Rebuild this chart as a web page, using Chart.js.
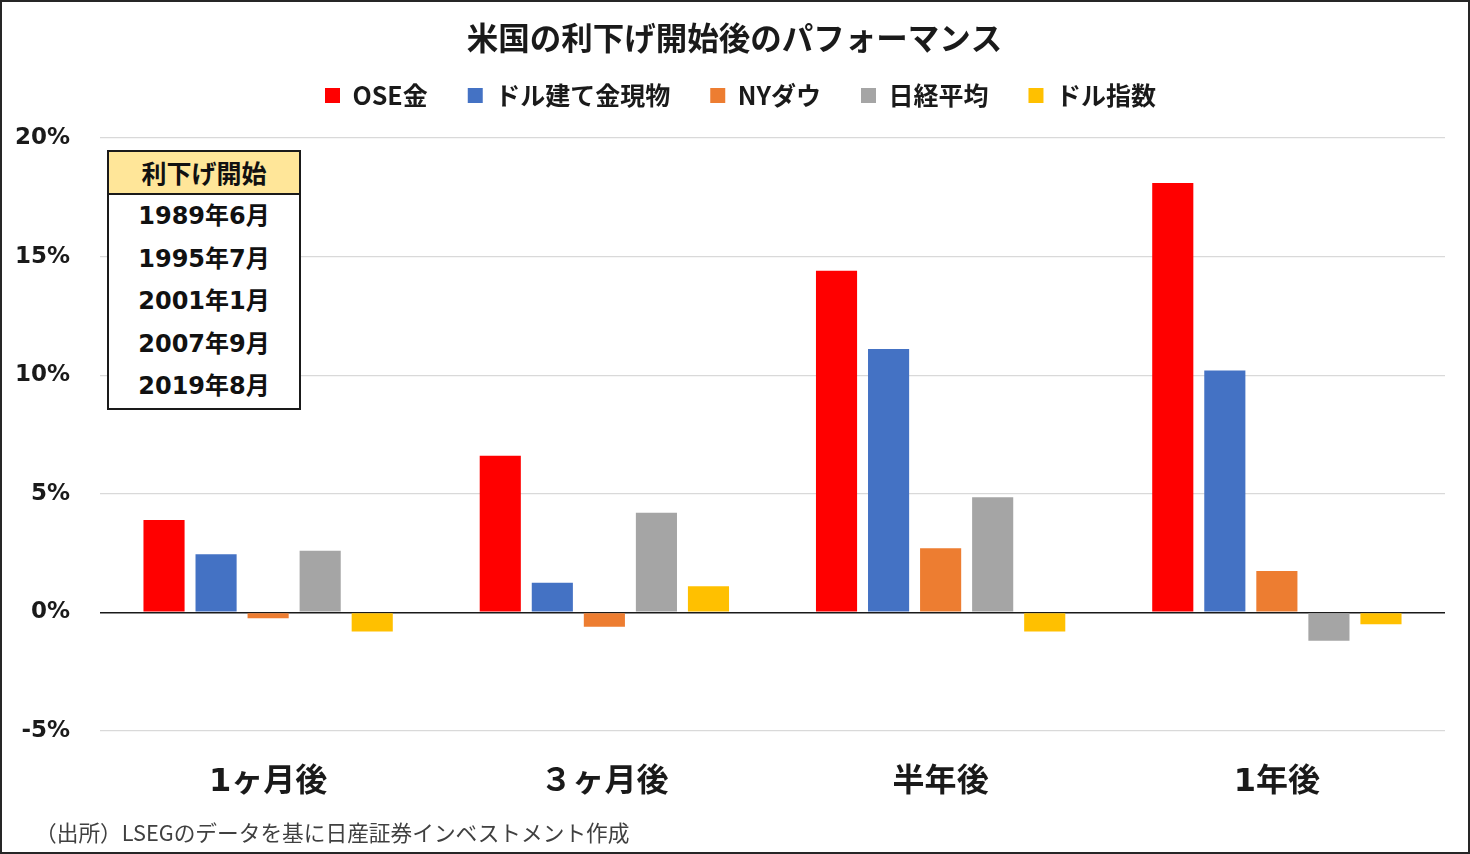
<!DOCTYPE html>
<html>
<head>
<meta charset="utf-8">
<script src="https://cdn.jsdelivr.net/npm/chart.js@4"></script>
<style>
  html, body { margin: 0; padding: 0; background: #fff; }
  #frame {
    position: relative;
    width: 1470px; height: 854px;
    box-sizing: border-box;
    border: 2px solid #262626;
    background: #fff;
  }
  #wrap { position: absolute; left: 0; top: 0; width: 1466px; height: 850px; }
  #startTable {
    position: absolute; left: 105px; top: 148px;
    width: 194px; box-sizing: border-box;
    border: 2px solid #1a1a1a; background: #fff;
    font-family: "DejaVu Sans", "Noto Sans CJK JP", sans-serif;
    text-align: center; color: #111;
  }
  #startTable .head {
    background: #FFE699; border-bottom: 2px solid #1a1a1a;
    height: 41px; line-height: 41px;
    font-family: "Noto Sans CJK JP", sans-serif; font-weight: 700; font-size: 25px;
  }
  #startTable .row { height: 42.5px; line-height: 42.5px; font-size: 24px; font-weight: 700; }
  #note {
    position: absolute; left: 33px; top: 814px;
    font-family: "Noto Sans CJK JP", sans-serif; font-size: 21.7px; color: #404040;
  }
</style>
</head>
<body>
<div id="frame">
  <div id="wrap"><canvas id="perfChart"></canvas></div>
  <div id="startTable"></div>
  <div id="note">（出所）LSEGのデータを基に日産証券インベストメント作成</div>
</div>
<script>
// data (percent)
const periods = ['1ヶ月後', '３ヶ月後', '半年後', '1年後'];
const seriesNames = ['OSE金', 'ドル建て金現物', 'NYダウ', '日経平均', 'ドル指数'];
const oseGold = [3.9, 6.6, 14.4, 18.1];
const usdGold = [2.45, 1.25, 11.1, 10.2];
const nyDow = [-0.25, -0.6, 2.7, 1.75];
const nikkei = [2.6, 4.2, 4.85, -1.2];
const dollarIndex = [-0.8, 1.1, -0.8, -0.5];
const yTicks = [-5, 0, 5, 10, 15, 20];
const cutStarts = ['1989年6月', '1995年7月', '2001年1月', '2007年9月', '2019年8月'];

const colors = ['#FF0000', '#4472C4', '#ED7D31', '#A5A5A5', '#FFC000'];
const values = [oseGold, usdGold, nyDow, nikkei, dollarIndex];

// inset table
const tbl = document.getElementById('startTable');
tbl.innerHTML = '<div class="head">利下げ開始</div>' +
  cutStarts.map(s => `<div class="row">${s}</div>`).join('');

// extra space under the legend, and nudge title/legend to the page centre
const headerTweak = {
  id: 'headerTweak',
  beforeLayout(chart) {
    const lg = chart.legend;
    if (lg && !lg._gapPatched) {
      const fit = lg.fit;
      lg.fit = function () { fit.call(this); this.height += 20; };
      lg._gapPatched = true;
    }
  },
  afterLayout(chart) {
    if (chart.titleBlock) { chart.titleBlock.left += 11; chart.titleBlock.right += 11; }
    if (chart.legend) { chart.legend.left += 17; chart.legend.right += 17; }
  }
};

const ctx = document.getElementById('perfChart').getContext('2d');
new Chart(ctx, {
  type: 'bar',
  data: {
    labels: periods,
    datasets: seriesNames.map((name, i) => ({
      label: name,
      data: values[i],
      backgroundColor: colors[i],
      borderWidth: 0,
      categoryPercentage: 0.774,
      barPercentage: 0.79,
    }))
  },
  options: {
    responsive: true,
    maintainAspectRatio: false,
    animation: false,
    layout: { padding: { left: 0, right: 23, top: 0, bottom: 41 } },
    plugins: {
      title: {
        display: true,
        text: '米国の利下げ開始後のパフォーマンス',
        color: '#1a1a1a',
        font: { family: '"Noto Sans CJK JP", sans-serif', size: 31.5, weight: 'bold', lineHeight: '10px' },
        padding: { top: 31, bottom: 0 }
      },
      legend: {
        display: true,
        position: 'top',
        labels: {
          color: '#1a1a1a',
          boxWidth: 15,
          boxHeight: 15,
          padding: 40,
          font: { family: '"Noto Sans CJK JP", sans-serif', size: 25, weight: 'bold' }
        }
      },
      tooltip: { enabled: false }
    },
    scales: {
      x: {
        grid: { display: false, drawTicks: false },
        border: { display: false },
        ticks: {
          color: '#1a1a1a',
          padding: 32,
          font: { family: '"DejaVu Sans", "Noto Sans CJK JP", sans-serif', size: 32, weight: 'bold' }
        },
        afterFit(scale) { scale.height = 80; }
      },
      y: {
        min: -5,
        max: 20,
        afterBuildTicks(scale) { scale.ticks = yTicks.map(v => ({ value: v })); },
        grid: {
          drawTicks: false,
          color: c => c.tick && c.tick.value === 0 ? '#1a1a1a' : '#D9D9D9',
          lineWidth: c => c.tick && c.tick.value === 0 ? 1.6 : 1.2
        },
        border: { display: false },
        ticks: {
          color: '#1a1a1a',
          padding: 30,
          font: { family: '"DejaVu Sans", sans-serif', size: 23, weight: 'bold' },
          callback: v => v + '%'
        },
        afterFit(scale) { scale.width = 98; }
      }
    }
  },
  plugins: [headerTweak]
});
</script>
</body>
</html>
